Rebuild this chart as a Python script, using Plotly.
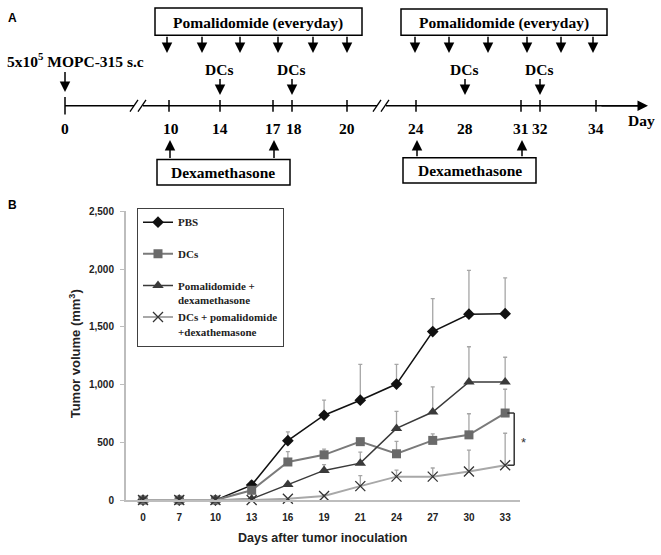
import plotly.graph_objects as go

W, H = 661, 555

# ---------------- Panel B data ----------------
days = ["0", "7", "10", "13", "16", "19", "21", "24", "27", "30", "33"]
pbs = [0, 0, 0, 130, 515, 735, 865, 1005, 1460, 1610, 1615]
pbs_err = [0, 0, 0, 35, 75, 130, 310, 170, 285, 380, 310]
dcs = [0, 0, 0, 85, 330, 392, 506, 401, 517, 565, 754]
dcs_err = [0, 0, 0, 0, 90, 50, 0, 107, 56, 183, 206]
pom = [0, 0, 0, 10, 135, 257, 320, 621, 763, 1023, 1023]
pom_err = [0, 0, 0, 0, 0, 50, 95, 147, 217, 305, 214]
combo = [0, 0, 0, 0, 11, 36, 121, 203, 203, 248, 302]
combo_err = [0, 0, 0, 0, 0, 10, 90, 57, 75, 185, 277]

series_names = ["PBS<br>&nbsp;", "DCs<br>&nbsp;", "Pomalidomide +<br>dexamethasone",
                "DCs + pomalidomide<br>+dexathemasone"]

# ---------------- Panel A schematic ----------------
tl_days = ["0", "10", "14", "17", "18", "20", "24", "28", "31", "32", "34"]
tl_pos = [65, 169, 220, 273, 292, 347, 416, 465, 521, 540, 596]      # schematic x
tl_has_tick = [True, True, True, True, True, True, True, False, True, True, True]
pom_arrows = [167, 202, 240, 278, 313, 347, 415, 449, 488, 527, 561, 593]
dcs_days = ["14", "18", "28", "32"]
dex_days = ["10", "17", "24", "31"]

# plot-area geometry of panel B (px)
PX0, PX1, PY0, PY1 = 126, 520, 210, 505
YMAX = 2500

fig = go.Figure()

styles = [
    dict(line=dict(color="#111111", width=1.5),
         marker=dict(symbol="diamond", size=9, color="#111111")),
    dict(line=dict(color="#7a7a7a", width=2),
         marker=dict(symbol="square", size=9, color="#6a6a6a")),
    dict(line=dict(color="#3a3a3a", width=1.5),
         marker=dict(symbol="triangle-up", size=10, color="#3a3a3a")),
    dict(line=dict(color="#a8a8a8", width=2),
         marker=dict(symbol="x-thin", size=10, color="#333333",
                     line=dict(color="#333333", width=1.3))),
]
vals = [pbs, dcs, pom, combo]
errs = [pbs_err, dcs_err, pom_err, combo_err]
for i in range(4):
    fig.add_trace(go.Scatter(
        x=days, y=vals[i], mode="lines+markers",
        name="<b>" + series_names[i] + "</b>",
        legendgroup=str(i),
        error_y=dict(type="data", symmetric=False, array=errs[i],
                     arrayminus=[0] * len(days), color="#a6a6a6",
                     thickness=1.3, width=2),
        cliponaxis=False,
        **styles[i]))

# significance bracket between DCs and combo at day 33
shapes = []
last = len(days) - 1
bx0, bx1 = last + 0.06, last + 0.25
for (a, b, c, d) in [(bx0, dcs[-1], bx1, dcs[-1]), (bx1, dcs[-1], bx1, combo[-1]),
                     (bx1, combo[-1], bx0, combo[-1])]:
    shapes.append(dict(type="line", xref="x", yref="y", x0=a, y0=b, x1=c, y1=d,
                       line=dict(color="#333333", width=1.5)))

annotations = []
star_val = (dcs[-1] + combo[-1]) / 2
star_py = PY1 - star_val * (PY1 - PY0) / YMAX + 3
annotations.append(dict(xref="paper", yref="paper", x=523 / W, y=1 - star_py / H,
                        xanchor="center", yanchor="middle",
                        text="*", showarrow=False,
                        font=dict(family="Liberation Sans", size=13, color="#333")))

def pann(x, y, t, size=12, angle=0, color="#222"):
    annotations.append(dict(xref="paper", yref="paper", x=x / W, y=1 - y / H,
                            xanchor="center", yanchor="middle", text=t,
                            textangle=angle, showarrow=False,
                            font=dict(family="Liberation Sans", size=size, color=color)))

pann(75, 356, "<b>Tumor volume (mm<sup>3</sup>)</b>", size=13, angle=-90)
pann(322, 544, "<b>Days after tumor inoculation</b>", size=12.5)
pann(12, 12, "<b>A</b>", color="#000")
pann(12, 203, "<b>B</b>", color="#000")

# ---------------- Panel A drawing (schematic axes x2/y2 in px units) ----------------
LY = 102  # timeline y
FS = 15.5
pos = dict(zip(tl_days, tl_pos))

def line2(x0, y0, x1, y1, w=1.5):
    shapes.append(dict(type="line", xref="x2", yref="y2", x0=x0, y0=y0, x1=x1, y1=y1,
                       line=dict(color="#000", width=w)))

def arrow(xh, yh, xt, yt):
    annotations.append(dict(xref="x2", yref="y2", axref="x2", ayref="y2",
                            x=xh, y=yh, ax=xt, ay=yt, text="", showarrow=True,
                            arrowhead=2, arrowsize=1.4, arrowwidth=1.5,
                            arrowcolor="#000"))

def text2(x, y, t, size=FS):
    annotations.append(dict(xref="x2", yref="y2", x=x, y=y, text="<b>" + t + "</b>",
                            xanchor="center", yanchor="middle",
                            showarrow=False,
                            font=dict(family="Liberation Serif", size=size, color="#000")))

def rect2(x0, y0, x1, y1):
    shapes.append(dict(type="rect", xref="x2", yref="y2", x0=x0, y0=y0, x1=x1, y1=y1,
                       line=dict(color="#000", width=1.5), fillcolor="rgba(0,0,0,0)"))

# main line with two breaks
line2(tl_pos[0], LY, 134, LY)
line2(143, LY, 377, LY)
line2(386, LY, 640, LY)
arrow(648, LY, 600, LY)
for sx in [134, 142, 377, 385]:
    line2(sx - 4, LY + 6, sx + 4, LY - 6, w=1.3)
# ticks and labels
for d, p, t in zip(tl_days, tl_pos, tl_has_tick):
    if t:
        if d == "0":
            line2(p, LY - 9, p, LY + 9)
        else:
            line2(p, LY - 6, p, LY + 6)
    text2(p + (2 if d in ("10", "18") else 0), 125, d)
text2(641, 117, "Day")

# inoculation
text2(75, 55, "5x10<sup>5</sup> MOPC-315 s.c")
arrow(65, 88, 65, 66)

# pomalidomide boxes and arrows
rect2(155, 2, 362, 30)
text2(258, 17, "Pomalidomide (everyday)")
rect2(401, 3, 607, 30)
text2(504, 17, "Pomalidomide (everyday)")
for p in pom_arrows:
    arrow(p, 48, p, 30)

# DCs arrows
for d in dcs_days:
    p = pos[d]
    text2(p - 1, 65, "DCs")
    arrow(p, 91, p, 73)

# dexamethasone boxes and arrows
rect2(157, 157, 290, 183)
text2(223, 170, "Dexamethasone")
rect2(403, 155, 536, 181)
text2(470, 168, "Dexamethasone")
for d in dex_days:
    p = pos[d]
    top = 157 if d in ("10", "17") else 155
    arrow(p + 1, 137, p + 1, top)

fig.update_layout(
    width=W, height=H,
    margin=dict(l=0, r=0, t=0, b=0),
    plot_bgcolor="white", paper_bgcolor="white",
    showlegend=True,
    legend=dict(x=137 / W, y=1 - 206 / H, xanchor="left", yanchor="top",
                bordercolor="#404040", borderwidth=1, bgcolor="white",
                font=dict(family="Liberation Serif", size=11, color="#222"),
                traceorder="grouped", tracegroupgap=0, itemwidth=30, valign="top"),
    xaxis=dict(domain=[PX0 / W, PX1 / W], type="category", range=[-0.47, 10.41],
               showline=True, linecolor="#bdbdbd", linewidth=2, ticks="",
               showgrid=False, zeroline=False, ticklabelstandoff=7,
               tickfont=dict(family="Liberation Sans", size=10, color="#222"),
               tickprefix="<b>", ticksuffix="</b>", anchor="y"),
    yaxis=dict(domain=[1 - PY1 / H, 1 - PY0 / H], range=[0, YMAX], dtick=500,
               tickformat=",", showline=True, linecolor="#bdbdbd", linewidth=2,
               ticks="outside", ticklen=4, tickcolor="#bdbdbd", showgrid=False,
               zeroline=False, ticklabelstandoff=4,
               tickfont=dict(family="Liberation Sans", size=10, color="#222"),
               tickprefix="<b>", ticksuffix="</b>", anchor="x"),
    xaxis2=dict(domain=[0, 1], range=[0, W], visible=False, anchor="y2"),
    yaxis2=dict(domain=[1 - 195 / H, 1], range=[195, 0], visible=False, anchor="x2"),
    shapes=shapes, annotations=annotations,
)
# invisible trace to activate x2/y2
fig.add_trace(go.Scatter(x=[0], y=[0], xaxis="x2", yaxis="y2", mode="markers",
                         marker=dict(opacity=0), showlegend=False, hoverinfo="skip"))

fig.write_html("out.html", config={"displayModeBar": False},
               post_script="document.body.style.margin='0';"
                           "document.documentElement.style.overflow='hidden';")
